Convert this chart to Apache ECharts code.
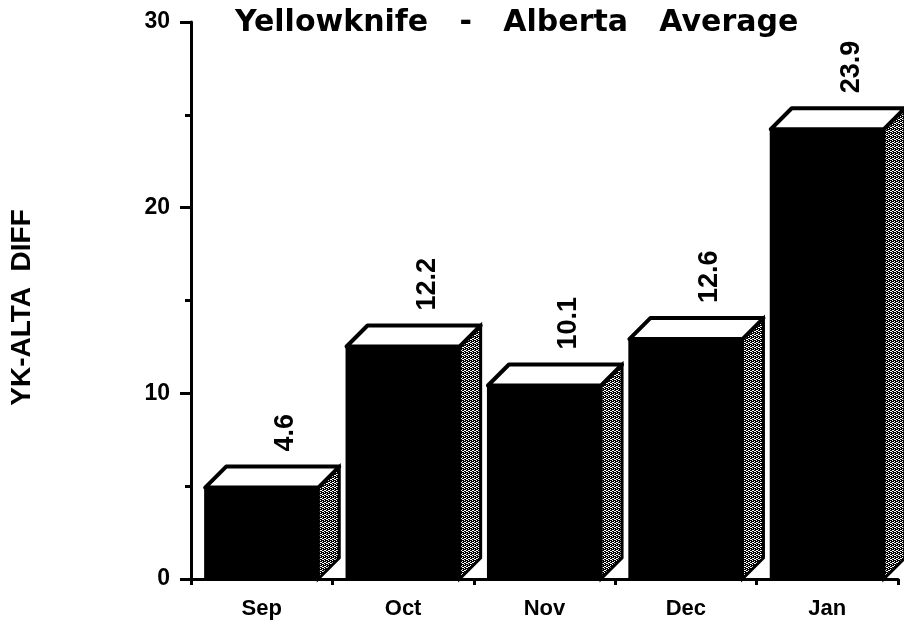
<!DOCTYPE html>
<html>
<head>
<meta charset="utf-8">
<script src="https://cdn.jsdelivr.net/npm/echarts@6/dist/echarts.min.js"></script>
<style>
html,body{margin:0;padding:0;background:#fff;}
#chart{width:904px;height:627px;}
</style>
</head>
<body>
<div id="chart"></div>
<script>
var months = ['Sep', 'Oct', 'Nov', 'Dec', 'Jan'];
var diffValues = [4.6, 12.2, 10.1, 12.6, 23.9];
var diffLabels = ['4.6', '12.2', '10.1', '12.6', '23.9'];
var titleText = 'Yellowknife   -   Alberta   Average';
var yAxisName = 'YK-ALTA  DIFF';

// stipple pattern for the bar side faces
var pat = document.createElement('canvas');
pat.width = 4; pat.height = 4;
var pctx = pat.getContext('2d');
pctx.fillStyle = '#000';
pctx.fillRect(0, 0, 4, 4);
pctx.fillStyle = '#fff';
[[0,0],[2,1],[1,2],[3,3],[2,3],[0,2]].forEach(function (p) { pctx.fillRect(p[0], p[1], 1, 1); });

var chart = echarts.init(document.getElementById('chart'), null, {renderer: 'canvas'});

function renderBar(params, api) {
  var idx = api.value(0);
  var val = api.value(1);
  var top = api.coord([idx, val]);
  var base = api.coord([idx, 0]);
  var bw = api.size([1, 0])[0];
  var cx = top[0];
  var half = bw * 0.4;
  var d = 21;
  var x0 = cx - half, x1 = cx + half;
  var yt = top[1] - 6;
  var yb = base[1];
  return {
    type: 'group',
    children: [
      { type: 'polygon', shape: { points: [[x1, yt], [x1 + d, yt - d], [x1 + d, yb - d], [x1, yb]] },
        style: { fill: { image: pat, repeat: 'repeat' }, stroke: '#000', lineWidth: 3 } },
      { type: 'polygon', shape: { points: [[x0, yt], [x0 + d, yt - d], [x1 + d, yt - d], [x1, yt]] },
        style: { fill: '#fff', stroke: '#000', lineWidth: 4, lineJoin: 'round' } },
      { type: 'rect', shape: { x: x0, y: yt, width: x1 - x0, height: yb - yt },
        style: { fill: '#000', stroke: '#000', lineWidth: 2 } },
      { type: 'text', x: cx + 24, y: yt - d - 15, rotation: Math.PI / 2,
        style: { text: diffLabels[params.dataIndex], fill: '#000', align: 'left', verticalAlign: 'middle',
                 font: 'bold 27px "Liberation Sans", Arial, sans-serif' } }
    ]
  };
}

var option = {
  backgroundColor: '#fff',
  animation: false,
  title: {
    text: titleText,
    left: 235, top: 8, padding: 0,
    textStyle: { fontFamily: 'DejaVu Sans', fontWeight: 'bold', fontSize: 30, color: '#000' }
  },
  grid: { left: 190, right: 6, top: 22, bottom: 48 },
  xAxis: {
    type: 'category',
    data: months,
    axisLine: { lineStyle: { color: '#000', width: 3 } },
    axisTick: { show: true, length: 6, lineStyle: { color: '#000', width: 3 } },
    axisLabel: { color: '#000', fontFamily: 'Liberation Sans', fontWeight: 'bold', fontSize: 22, margin: 19 }
  },
  yAxis: {
    type: 'value',
    min: 0, max: 30, interval: 10,
    name: yAxisName,
    nameLocation: 'middle',
    nameRotate: 90,
    nameGap: 155,
    nameTextStyle: { color: '#000', fontFamily: 'Liberation Sans', fontWeight: 'bold', fontSize: 28, padding: [0, 14, 0, 0] },
    axisLine: { show: true, lineStyle: { color: '#000', width: 3 } },
    axisTick: { show: true, length: 11, lineStyle: { color: '#000', width: 3 } },
    minorTick: { show: true, splitNumber: 2, length: 6, lineStyle: { color: '#000', width: 3 } },
    splitLine: { show: false },
    axisLabel: { color: '#000', fontFamily: 'Liberation Sans', fontWeight: 'bold', fontSize: 23, margin: 21 }
  },
  series: [{
    type: 'custom',
    renderItem: renderBar,
    clip: false,
    data: diffValues.map(function (v, i) { return [i, v]; })
  }]
};
chart.setOption(option);
</script>
</body>
</html>
